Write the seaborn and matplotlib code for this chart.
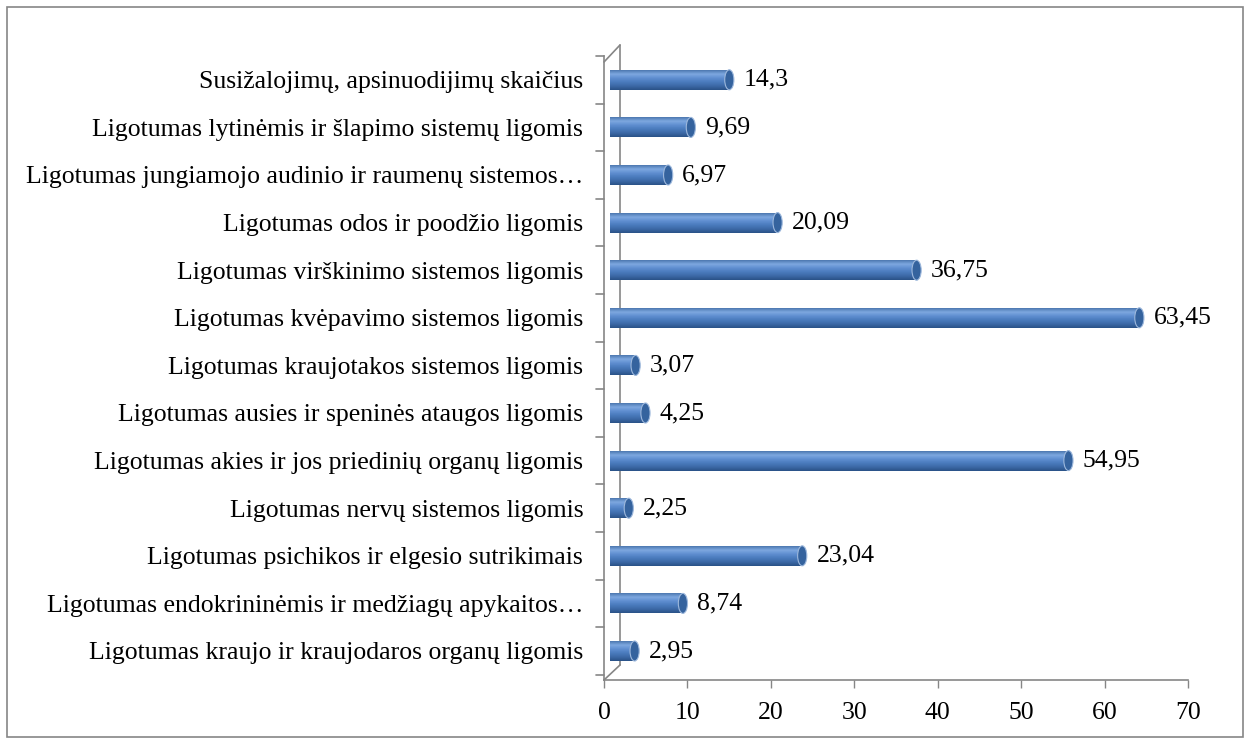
import numpy as np
import pandas as pd
import matplotlib.pyplot as plt
import matplotlib.transforms as mtransforms
from matplotlib.patches import Ellipse, Rectangle
from matplotlib.colors import LinearSegmentedColormap
import seaborn as sns

categories = [
    "Susižalojimų, apsinuodijimų skaičius",
    "Ligotumas lytinėmis ir šlapimo sistemų ligomis",
    "Ligotumas jungiamojo audinio ir raumenų sistemos…",
    "Ligotumas odos ir poodžio ligomis",
    "Ligotumas virškinimo sistemos ligomis",
    "Ligotumas kvėpavimo sistemos ligomis",
    "Ligotumas kraujotakos sistemos ligomis",
    "Ligotumas ausies ir speninės ataugos ligomis",
    "Ligotumas akies ir jos priedinių organų ligomis",
    "Ligotumas nervų sistemos ligomis",
    "Ligotumas psichikos ir elgesio sutrikimais",
    "Ligotumas endokrininėmis ir medžiagų apykaitos…",
    "Ligotumas kraujo ir kraujodaros organų ligomis",
]
values = [14.3, 9.69, 6.97, 20.09, 36.75, 63.45, 3.07, 4.25, 54.95, 2.25, 23.04, 8.74, 2.95]
xticks = [0, 10, 20, 30, 40, 50, 60, 70]

df = pd.DataFrame({"cat": categories, "val": values})

sns.set_theme(style="white")
plt.rcParams["font.family"] = ["Liberation Serif", "DejaVu Serif"]
plt.rcParams["text.color"] = "black"
FS = 18.5

fig = plt.figure(figsize=(12.51, 7.44), dpi=100)
ax = fig.add_axes([604 / 1251, 1 - 680 / 744, (1188 - 604) / 1251, (680 - 56) / 744])
ax.patch.set_alpha(0)

sns.barplot(data=df, x="val", y="cat", orient="h", color="#4A7BBD",
            width=0.42, ax=ax, saturation=1, linewidth=0)

# 3D depth shift for the bars
shift = mtransforms.ScaledTranslation(6 / 100, 0, fig.dpi_scale_trans)

grad = np.linspace(0, 1, 64).reshape(-1, 1)
cmap = LinearSegmentedColormap.from_list(
    "cyl", ["#4D78B0", "#7EA8E0", "#5F8ED0", "#4A7BBD", "#3C69A7", "#2A5287"])
bars = list(ax.patches)
for p in bars:
    p.set_transform(ax.transData + shift)
    x0, y0 = p.get_x(), p.get_y()
    w, h = p.get_width(), p.get_height()
    im = ax.imshow(grad, cmap=cmap, aspect="auto", origin="upper",
                   extent=[x0, x0 + w, y0 + h, y0],
                   transform=ax.transData + shift, zorder=2, interpolation="bilinear")
    im.set_clip_path(p)
    cap = Ellipse((x0 + w, y0 + h / 2), 1.1, h, transform=ax.transData + shift,
                  facecolor="#35639E", edgecolor="#9DB8DC", linewidth=0.8, zorder=3)
    ax.add_patch(cap)

for i, v in enumerate(values):
    ax.text(v + 1.7, i, f"{v:g}".replace(".", ","), va="center", ha="left",
            fontsize=FS, color="black", transform=ax.transData + shift)

ax.set_xlim(0, 70)
ax.set_ylim(len(categories) - 1 + 29 / 47.6, -0.5)
ax.set_aspect("auto")
ax.set_xticks(xticks)
ax.set_yticks(range(len(categories)))
ax.set_yticklabels(categories)
ax.set_xlabel("")
ax.set_ylabel("")
ax.tick_params(axis="x", labelsize=FS, length=6, width=1, color="#868686",
               direction="out", bottom=True, pad=10, labelcolor="black")
ax.tick_params(axis="y", labelsize=FS, length=0, pad=15, labelcolor="black")

for s in ["top", "right"]:
    ax.spines[s].set_visible(False)
for s in ["left", "bottom"]:
    ax.spines[s].set_color("#868686")
    ax.spines[s].set_linewidth(1.2)

# category boundary ticks on the left axis
gray = "#868686"
for b in np.arange(-0.5, len(categories), 1.0):
    ax.plot([-0.9, 0], [b, b], color=gray, lw=1.2, clip_on=False)

# back wall of the 3D frame (behind the bars)
for xs, ys in [([620, 620], [45, 665]), ([604, 620], [62, 45]), ([604, 620], [680, 665])]:
    fig.lines.append(plt.Line2D([x / 1251 for x in xs], [1 - y / 744 for y in ys],
                                transform=fig.transFigure, color=gray, lw=1.2, zorder=-1))

fig.patches.append(Rectangle((7 / 1251, 7 / 744), 1236 / 1251, 730 / 744,
                             transform=fig.transFigure, fill=False,
                             edgecolor=gray, linewidth=1.2))

fig.savefig("out.png", dpi=100)
